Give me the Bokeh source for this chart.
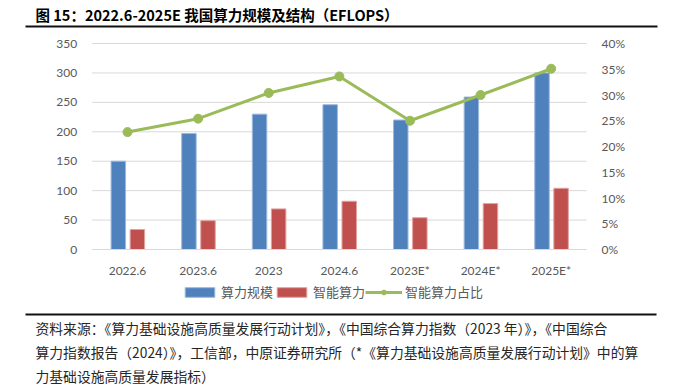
from bokeh.plotting import figure
from bokeh.models import (ColumnDataSource, Range1d, LinearAxis, FixedTicker,
                          NumeralTickFormatter, Legend, LegendItem, Label, BoxAnnotation)
from bokeh.transform import dodge
from bokeh.embed import file_html
from bokeh.resources import INLINE

# ---------------- data ----------------
categories = ["2022.6", "2023.6", "2023", "2024.6", "2023E*", "2024E*", "2025E*"]
total_compute = [150, 197, 230, 246, 220, 259, 300]      # 算力规模 (EFLOPS)
ai_compute = [34, 49, 69, 82, 54, 78, 104]               # 智能算力 (EFLOPS)
ai_share = [0.228, 0.254, 0.304, 0.336, 0.250, 0.300, 0.351]  # 智能算力占比
left_ticks = [0, 50, 100, 150, 200, 250, 300, 350]
right_ticks = [0, 0.05, 0.10, 0.15, 0.20, 0.25, 0.30, 0.35, 0.40]

title_text = "图 15：2022.6-2025E 我国算力规模及结构（EFLOPS）"
source_lines = [
    "资料来源：《算力基础设施高质量发展行动计划》，《中国综合算力指数（2023 年）》，《中国综合",
    "算力指数报告（2024）》，工信部，中原证券研究所（*《算力基础设施高质量发展行动计划》中的算",
    "力基础设施高质量发展指标）",
]

CJK = "Noto Sans CJK SC"
NUM = "Lato"
GRAY = "#595959"

# ---------------- layout geometry (canvas pixels) ----------------
W, H = 700, 387
PL, PR = 91.7, 586.0       # plot-area left / right
PT, PB = 43.0, 249.0       # plot-area top / bottom
n = len(categories)
ymax = left_ticks[-1]
pmax = right_ticks[-1]
cat_px = (PR - PL) / n
y_px = (PB - PT) / ymax
p_px = (PB - PT) / pmax

x_range = Range1d(-PL / cat_px, (W - PL) / cat_px)
y_range = Range1d(-(H - PB) / y_px, PB / y_px)
pct_range = Range1d(-(H - PB) / p_px, PB / p_px)

p = figure(width=W, height=H, x_range=x_range, y_range=y_range,
           x_axis_type=None, y_axis_type=None, min_border=0,
           toolbar_location=None, output_backend="svg")
p.outline_line_color = None
p.grid.visible = False
p.extra_y_ranges = {"pct": pct_range}

xpos = [i + 0.5 for i in range(n)]
src = ColumnDataSource(dict(x=xpos, cat=categories, total=total_compute,
                            ai=ai_compute, share=ai_share))

# horizontal gridlines at the left-axis ticks, spanning the plot area
p.segment(x0=[0] * len(left_ticks), x1=[n] * len(left_ticks), y0=left_ticks, y1=left_ticks,
          line_color="#d9d9d9", line_width=1)

b1 = p.vbar(x=dodge("x", -0.13), top="total", width=0.205, source=src,
            fill_color="#4F81BD", line_color="#9DB8DC", line_width=1)
b2 = p.vbar(x=dodge("x", 0.14), top="ai", width=0.205, source=src,
            fill_color="#C0504D", line_color="#E0A3A1", line_width=1)

ln = p.line("x", "share", source=src, y_range_name="pct", line_color="#9BBB59", line_width=3)
sc = p.scatter("x", "share", source=src, y_range_name="pct", size=9,
               fill_color="#9BBB59", line_color="#9BBB59")

# axes (pinned to the plot-area edges)
ly = LinearAxis(ticker=FixedTicker(ticks=left_ticks), fixed_location=0)
ry = LinearAxis(y_range_name="pct", ticker=FixedTicker(ticks=right_ticks),
                formatter=NumeralTickFormatter(format="0%"), fixed_location=n)
xa = LinearAxis(ticker=FixedTicker(ticks=xpos), fixed_location=0, bounds=(0, n),
                major_label_overrides={xv: c for xv, c in zip(xpos, categories)})
p.add_layout(ly, "left")
p.add_layout(ry, "right")
p.add_layout(xa, "below")

for ax in (ly, ry, xa):
    ax.axis_line_color = None
    ax.major_tick_line_color = None
    ax.minor_tick_line_color = None
    ax.major_label_text_font = NUM
    ax.major_label_text_font_size = "12px"
    ax.major_label_text_color = GRAY
ly.major_label_standoff = 9
ry.major_label_standoff = 9
xa.major_label_standoff = 7
xa.axis_line_color = "#d9d9d9"


def sy(cy):
    return H - cy


legend = Legend(items=[LegendItem(label="算力规模", renderers=[b1]),
                       LegendItem(label="智能算力", renderers=[b2]),
                       LegendItem(label="智能算力占比", renderers=[ln, sc])],
                orientation="horizontal", location=(181, sy(301)),
                glyph_width=37, glyph_height=12, label_standoff=3, spacing=0,
                padding=2, margin=0, label_height=16,
                border_line_color=None, background_fill_alpha=0,
                label_text_font=CJK, label_text_font_size="13px", label_text_color=GRAY)
p.add_layout(legend)

# ------------- header & footer -------------
p.add_layout(Label(x=35, y=sy(14), x_units="screen", y_units="screen", text=title_text,
                   text_font=CJK, text_font_size="14.5px", text_font_style="bold",
                   text_color="#000000", text_baseline="middle", text_align="left"))
p.add_layout(BoxAnnotation(left=25, right=657, top=sy(25), bottom=sy(27),
                           left_units="screen", right_units="screen",
                           top_units="screen", bottom_units="screen",
                           fill_color="#111111", fill_alpha=1, line_color=None))
p.add_layout(BoxAnnotation(left=25, right=656, top=sy(313), bottom=sy(315),
                           left_units="screen", right_units="screen",
                           top_units="screen", bottom_units="screen",
                           fill_color="#111111", fill_alpha=1, line_color=None))
for cy, line_text in zip([327, 351.5, 375], source_lines):
    p.add_layout(Label(x=35, y=sy(cy), x_units="screen", y_units="screen", text=line_text,
                       text_font=CJK, text_font_size="13.8px", text_color="#262626",
                       text_baseline="middle", text_align="left"))

open("out.html", "w").write(file_html(p, INLINE))
